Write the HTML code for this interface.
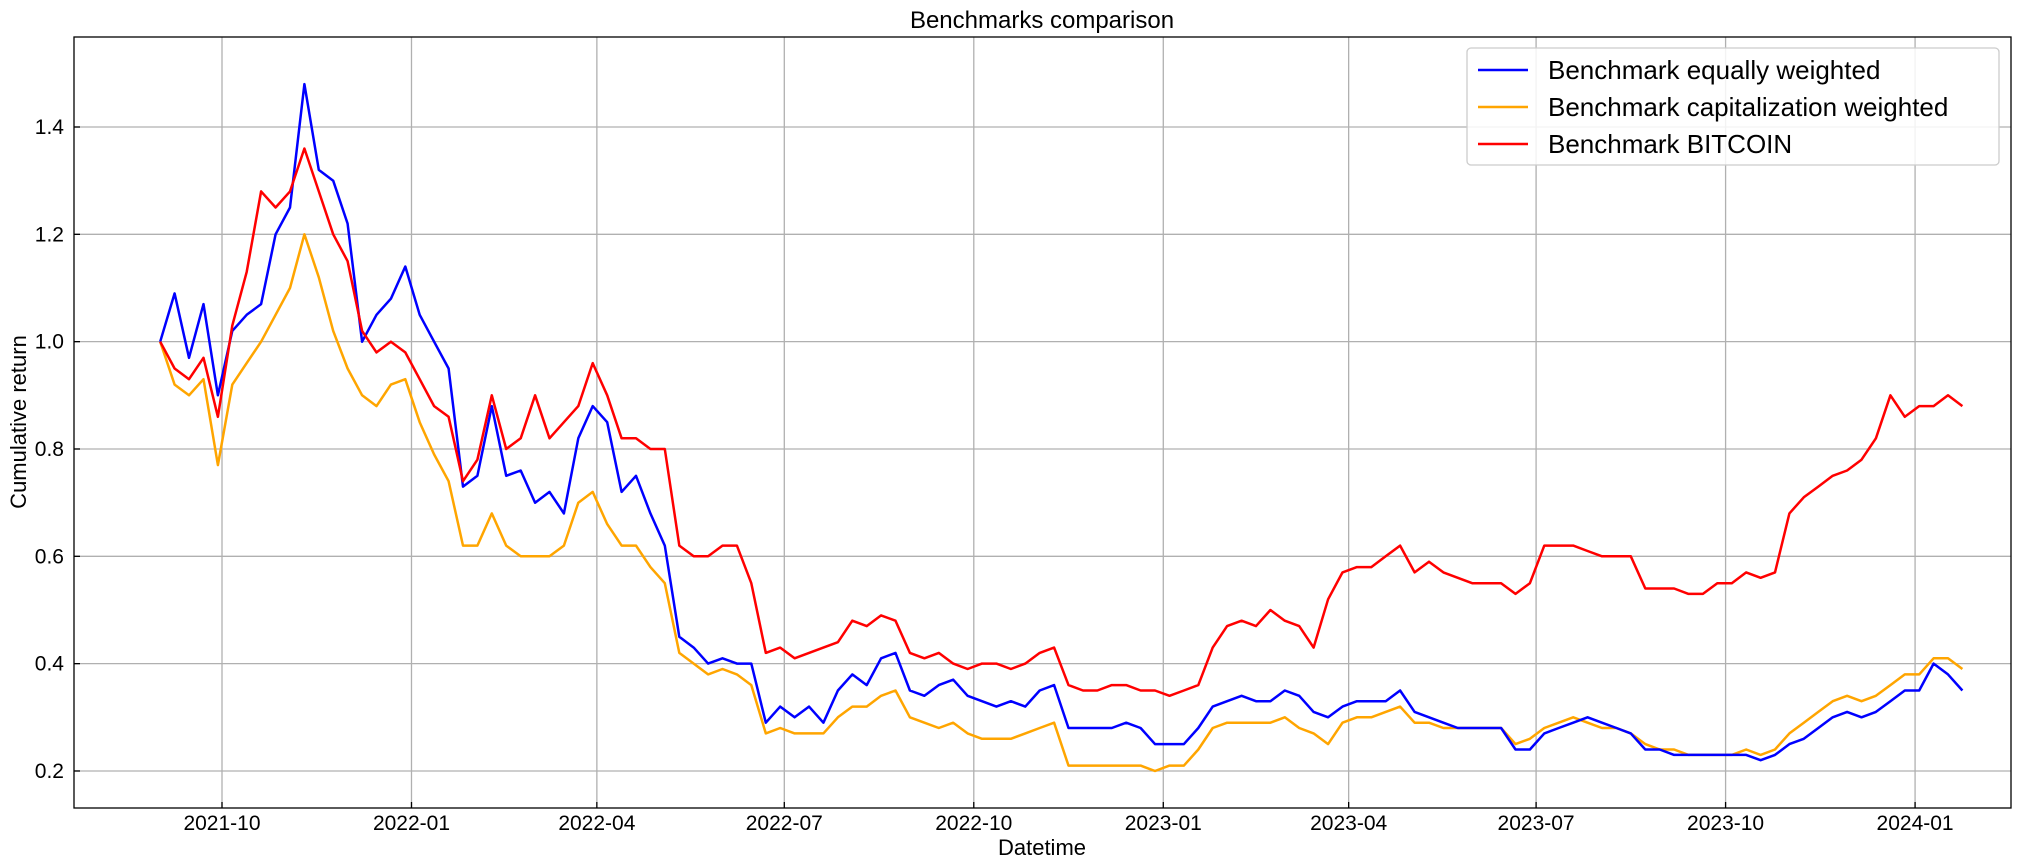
<!DOCTYPE html>
<html><head><meta charset="utf-8">
<style>
html,body{margin:0;padding:0;background:#fff;}
svg{display:block;font-family:"Liberation Sans","DejaVu Sans",sans-serif;}
</style></head>
<body>
<svg id="chart" width="2021" height="867" viewBox="0 0 2021 867" xmlns="http://www.w3.org/2000/svg">
<text x="1042" y="28" font-size="24" text-anchor="middle">Benchmarks comparison</text>
<g id="grid"></g>
<g id="series"></g>
<rect x="74" y="37" width="1937" height="771" fill="none" stroke="#000" stroke-width="1.3"/>
<g id="ticks"></g>
<text x="1042" y="855" font-size="22" text-anchor="middle">Datetime</text>
<text x="26" y="422" font-size="22" text-anchor="middle" transform="rotate(-90 26 422)">Cumulative return</text>
<g>
<rect x="1467" y="48" width="532" height="117" rx="4" fill="#fff" fill-opacity="0.85" stroke="#ccc" stroke-width="1.3"/>
<line x1="1478" y1="70" x2="1528" y2="70" stroke="#0000ff" stroke-width="2.5"/>
<text x="1548" y="79" font-size="26">Benchmark equally weighted</text>
<line x1="1478" y1="107" x2="1528" y2="107" stroke="#ffa500" stroke-width="2.5"/>
<text x="1548" y="116" font-size="26">Benchmark capitalization weighted</text>
<line x1="1478" y1="144" x2="1528" y2="144" stroke="#ff0000" stroke-width="2.5"/>
<text x="1548" y="153" font-size="26">Benchmark BITCOIN</text>
</g>
</svg>
<script>
const startDate = "2021-09-01";
const stepDays = 7;
const equalWeighted = [1.00,1.09,0.97,1.07,0.90,1.02,1.05,1.07,1.20,1.25,1.48,1.32,1.30,1.22,1.00,1.05,1.08,1.14,1.05,1.00,0.95,0.73,0.75,0.88,0.75,0.76,0.70,0.72,0.68,0.82,0.88,0.85,0.72,0.75,0.68,0.62,0.45,0.43,0.40,0.41,0.40,0.40,0.29,0.32,0.30,0.32,0.29,0.35,0.38,0.36,0.41,0.42,0.35,0.34,0.36,0.37,0.34,0.33,0.32,0.33,0.32,0.35,0.36,0.28,0.28,0.28,0.28,0.29,0.28,0.25,0.25,0.25,0.28,0.32,0.33,0.34,0.33,0.33,0.35,0.34,0.31,0.30,0.32,0.33,0.33,0.33,0.35,0.31,0.30,0.29,0.28,0.28,0.28,0.28,0.24,0.24,0.27,0.28,0.29,0.30,0.29,0.28,0.27,0.24,0.24,0.23,0.23,0.23,0.23,0.23,0.23,0.22,0.23,0.25,0.26,0.28,0.30,0.31,0.30,0.31,0.33,0.35,0.35,0.40,0.38,0.35];
const capWeighted = [1.00,0.92,0.90,0.93,0.77,0.92,0.96,1.00,1.05,1.10,1.20,1.12,1.02,0.95,0.90,0.88,0.92,0.93,0.85,0.79,0.74,0.62,0.62,0.68,0.62,0.60,0.60,0.60,0.62,0.70,0.72,0.66,0.62,0.62,0.58,0.55,0.42,0.40,0.38,0.39,0.38,0.36,0.27,0.28,0.27,0.27,0.27,0.30,0.32,0.32,0.34,0.35,0.30,0.29,0.28,0.29,0.27,0.26,0.26,0.26,0.27,0.28,0.29,0.21,0.21,0.21,0.21,0.21,0.21,0.20,0.21,0.21,0.24,0.28,0.29,0.29,0.29,0.29,0.30,0.28,0.27,0.25,0.29,0.30,0.30,0.31,0.32,0.29,0.29,0.28,0.28,0.28,0.28,0.28,0.25,0.26,0.28,0.29,0.30,0.29,0.28,0.28,0.27,0.25,0.24,0.24,0.23,0.23,0.23,0.23,0.24,0.23,0.24,0.27,0.29,0.31,0.33,0.34,0.33,0.34,0.36,0.38,0.38,0.41,0.41,0.39];
const bitcoin = [1.00,0.95,0.93,0.97,0.86,1.03,1.13,1.28,1.25,1.28,1.36,1.28,1.20,1.15,1.02,0.98,1.00,0.98,0.93,0.88,0.86,0.74,0.78,0.90,0.80,0.82,0.90,0.82,0.85,0.88,0.96,0.90,0.82,0.82,0.80,0.80,0.62,0.60,0.60,0.62,0.62,0.55,0.42,0.43,0.41,0.42,0.43,0.44,0.48,0.47,0.49,0.48,0.42,0.41,0.42,0.40,0.39,0.40,0.40,0.39,0.40,0.42,0.43,0.36,0.35,0.35,0.36,0.36,0.35,0.35,0.34,0.35,0.36,0.43,0.47,0.48,0.47,0.50,0.48,0.47,0.43,0.52,0.57,0.58,0.58,0.60,0.62,0.57,0.59,0.57,0.56,0.55,0.55,0.55,0.53,0.55,0.62,0.62,0.62,0.61,0.60,0.60,0.60,0.54,0.54,0.54,0.53,0.53,0.55,0.55,0.57,0.56,0.57,0.68,0.71,0.73,0.75,0.76,0.78,0.82,0.90,0.86,0.88,0.88,0.90,0.88];
const yTicks = [0.2,0.4,0.6,0.8,1.0,1.2,1.4];
const xTickLabels = ["2021-10","2022-01","2022-04","2022-07","2022-10","2023-01","2023-04","2023-07","2023-10","2024-01"];

const NS = "http://www.w3.org/2000/svg";
const DAY = 86400000;
const ref = Date.UTC(2021,9,1);
function toDays(s){const p=s.split("-");return (Date.UTC(+p[0],+p[1]-1,+(p[2]||1))-ref)/DAY;}
function xScale(days){return 222 + days*2.0597;}
function yScale(v){return 127 + (1.4-v)/0.2*107.33;}
const grid=document.getElementById("grid"), ticks=document.getElementById("ticks"), series=document.getElementById("series");
function mk(tag,attrs,parent){const e=document.createElementNS(NS,tag);for(const k in attrs)e.setAttribute(k,attrs[k]);parent.appendChild(e);return e;}

yTicks.forEach(function(v){
  const y=yScale(v);
  const g=mk("line",{x1:74,x2:2011,y1:y,y2:y,stroke:"#b0b0b0","stroke-width":1.3},grid);
  
  
  const t=mk("line",{x1:74,x2:80,y1:y,y2:y,stroke:"#000","stroke-width":1.3},ticks);
  
  
  const l=mk("text",{x:64,y:y+7,"font-size":21,"text-anchor":"end"},ticks);
  l.textContent=v.toFixed(1);
  
  
});
xTickLabels.forEach(function(s){
  const x=xScale(toDays(s));
  const g=mk("line",{x1:x,x2:x,y1:37,y2:808,stroke:"#b0b0b0","stroke-width":1.3},grid);
  
  
  const t=mk("line",{x1:x,x2:x,y1:802,y2:808,stroke:"#000","stroke-width":1.3},ticks);
  
  
  const l=mk("text",{x:x,y:830,"font-size":21,"text-anchor":"middle"},ticks);
  l.textContent=s;
  
  
});
const d0=toDays(startDate);
function drawLine(vals,color,name){
  const pts=vals.map(function(v,i){return xScale(d0+i*stepDays).toFixed(1)+","+yScale(v).toFixed(1);}).join(" ");
  const p=mk("polyline",{points:pts,fill:"none",stroke:color,"stroke-width":2.5,"stroke-linejoin":"round"},series);
  
  
}
drawLine(capWeighted,"#ffa500","line-cap-weighted");
drawLine(equalWeighted,"#0000ff","line-equal-weighted");
drawLine(bitcoin,"#ff0000","line-bitcoin");
</script>
</body></html>
